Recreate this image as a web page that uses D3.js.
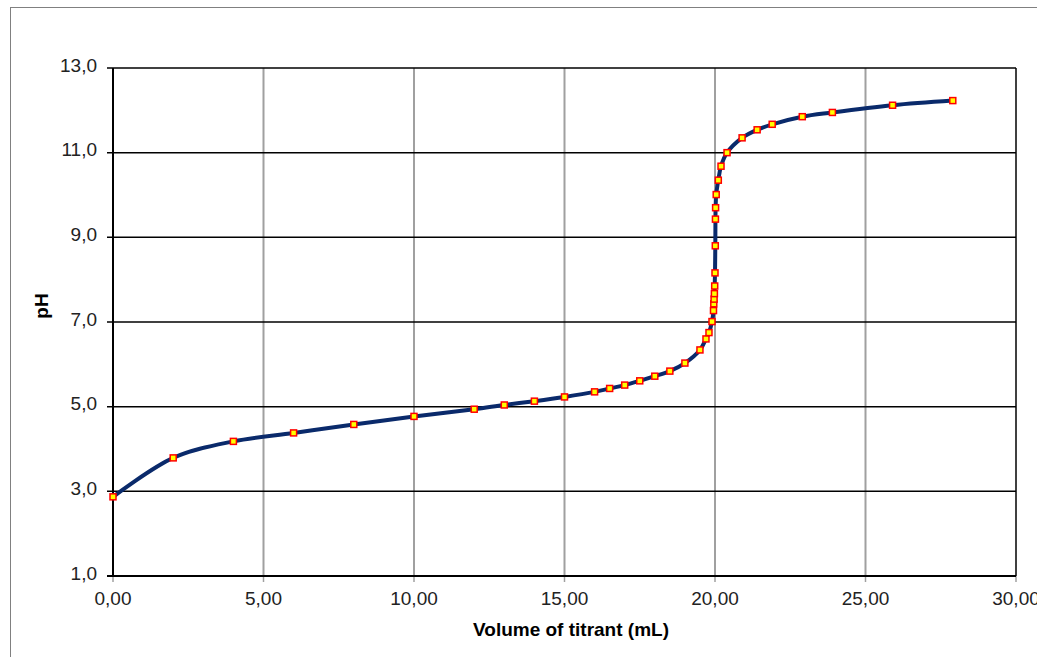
<!DOCTYPE html>
<html>
<head>
<meta charset="utf-8">
<script src="https://cdn.jsdelivr.net/npm/d3@7"></script>
<style>
  body { margin: 0; background: #fff; }
  svg { display: block; font-family: "Liberation Sans", Arial, sans-serif; }
</style>
</head>
<body>
<div id="chart-container"></div>
<script>
// titrant volume (mL) and measured pH
const volumes = [0, 2, 4, 6, 8, 10, 12, 13, 14, 15, 16, 16.5, 17, 17.5, 18, 18.5, 19, 19.5,
  19.7, 19.8, 19.9, 19.95, 19.96, 19.97, 19.98, 19.99, 20.0, 20.01, 20.015, 20.02, 20.04,
  20.11, 20.2, 20.4, 20.9, 21.4, 21.9, 22.9, 23.9, 25.9, 27.9];
const phValues = [2.87, 3.79, 4.18, 4.38, 4.58, 4.77, 4.94, 5.04, 5.13, 5.23, 5.35, 5.43, 5.51, 5.61, 5.72, 5.84, 6.03, 6.34,
  6.60, 6.75, 7.01, 7.27, 7.43, 7.54, 7.67, 7.85, 8.16, 8.80, 9.43, 9.70, 10.01,
  10.35, 10.68, 11.0, 11.35, 11.54, 11.67, 11.85, 11.95, 12.12, 12.23];
const xTicks = [0, 5, 10, 15, 20, 25, 30];
const yTicks = [1, 3, 5, 7, 9, 11, 13];

const data = volumes.map((v, i) => ({ v: v, ph: phValues[i] }));

const width = 1037;
const height = 657;
const marginTop = 68;
const marginRight = 21;
const marginBottom = 81;
const marginLeft = 113;

const x = d3.scaleLinear()
    .domain([0, 30])
    .range([marginLeft, width - marginRight]);

const y = d3.scaleLinear()
    .domain([1, 13])
    .range([height - marginBottom, marginTop]);

const svg = d3.select("#chart-container").append("svg")
    .attr("width", width)
    .attr("height", height)
    .attr("viewBox", [0, 0, width, height]);

// outer chart frame (runs off the page on the right and bottom)
svg.append("rect")
    .attr("x", 10.5)
    .attr("y", 7.5)
    .attr("width", width + 20)
    .attr("height", height + 20)
    .attr("fill", "none")
    .attr("stroke", "#808080")
    .attr("stroke-width", 1);

// vertical gridlines (gray)
svg.append("g")
  .selectAll("line")
  .data(xTicks.slice(1))
  .join("line")
    .attr("x1", d => x(d))
    .attr("x2", d => x(d))
    .attr("y1", y(13))
    .attr("y2", y(1))
    .attr("stroke", d => d === 30 ? "#000" : "#a0a0a0")
    .attr("stroke-width", d => d === 30 ? 1.5 : 2);

// tick stubs below the x axis
svg.append("g")
  .selectAll("line")
  .data(xTicks)
  .join("line")
    .attr("x1", d => x(d))
    .attr("x2", d => x(d))
    .attr("y1", y(1))
    .attr("y2", y(1) + 6)
    .attr("stroke", "#a0a0a0")
    .attr("stroke-width", 1.5);

// horizontal gridlines (black)
svg.append("g")
  .selectAll("line")
  .data(yTicks.slice(1))
  .join("line")
    .attr("x1", x(0) - 6)
    .attr("x2", x(30))
    .attr("y1", d => y(d))
    .attr("y2", d => y(d))
    .attr("stroke", "#000")
    .attr("stroke-width", 1.5);

// axes lines
svg.append("line")
    .attr("x1", x(0)).attr("x2", x(0))
    .attr("y1", y(13)).attr("y2", y(1))
    .attr("stroke", "#000").attr("stroke-width", 2);
svg.append("line")
    .attr("x1", x(0) - 6).attr("x2", x(30))
    .attr("y1", y(1)).attr("y2", y(1))
    .attr("stroke", "#000").attr("stroke-width", 2);

// tick labels
svg.append("g")
  .selectAll("text")
  .data(yTicks)
  .join("text")
    .attr("x", x(0) - 16)
    .attr("y", d => y(d))
    .attr("dy", "0.2em")
    .attr("text-anchor", "end")
    .attr("font-size", 19)
    .attr("fill", "#222")
    .text(d => d3.format(".1f")(d).replace(".", ","));

svg.append("g")
  .selectAll("text")
  .data(xTicks)
  .join("text")
    .attr("x", d => x(d))
    .attr("y", y(1) + 29)
    .attr("text-anchor", "middle")
    .attr("font-size", 19)
    .attr("fill", "#222")
    .text(d => d3.format(".2f")(d).replace(".", ","));

// axis titles
svg.append("text")
    .attr("x", 571)
    .attr("y", 636)
    .attr("text-anchor", "middle")
    .attr("font-size", 19)
    .attr("font-weight", "bold")
    .text("Volume of titrant (mL)");

svg.append("text")
    .attr("transform", "translate(48,306) rotate(-90)")
    .attr("text-anchor", "middle")
    .attr("font-size", 19)
    .attr("font-weight", "bold")
    .text("pH");

// titration curve
const line = d3.line()
    .curve(d3.curveCatmullRom)
    .x(d => x(d.v))
    .y(d => y(d.ph));

svg.append("path")
    .datum(data)
    .attr("fill", "none")
    .attr("stroke", "#0a2a6b")
    .attr("stroke-width", 4)
    .attr("stroke-linejoin", "round")
    .attr("stroke-linecap", "round")
    .attr("d", line);

// square markers
svg.append("g")
  .selectAll("rect")
  .data(data)
  .join("rect")
    .attr("x", d => x(d.v) - 3)
    .attr("y", d => y(d.ph) - 3)
    .attr("width", 6)
    .attr("height", 6)
    .attr("fill", "#ffff00")
    .attr("stroke", "#ff0000")
    .attr("stroke-width", 1.5);
</script>
</body>
</html>
